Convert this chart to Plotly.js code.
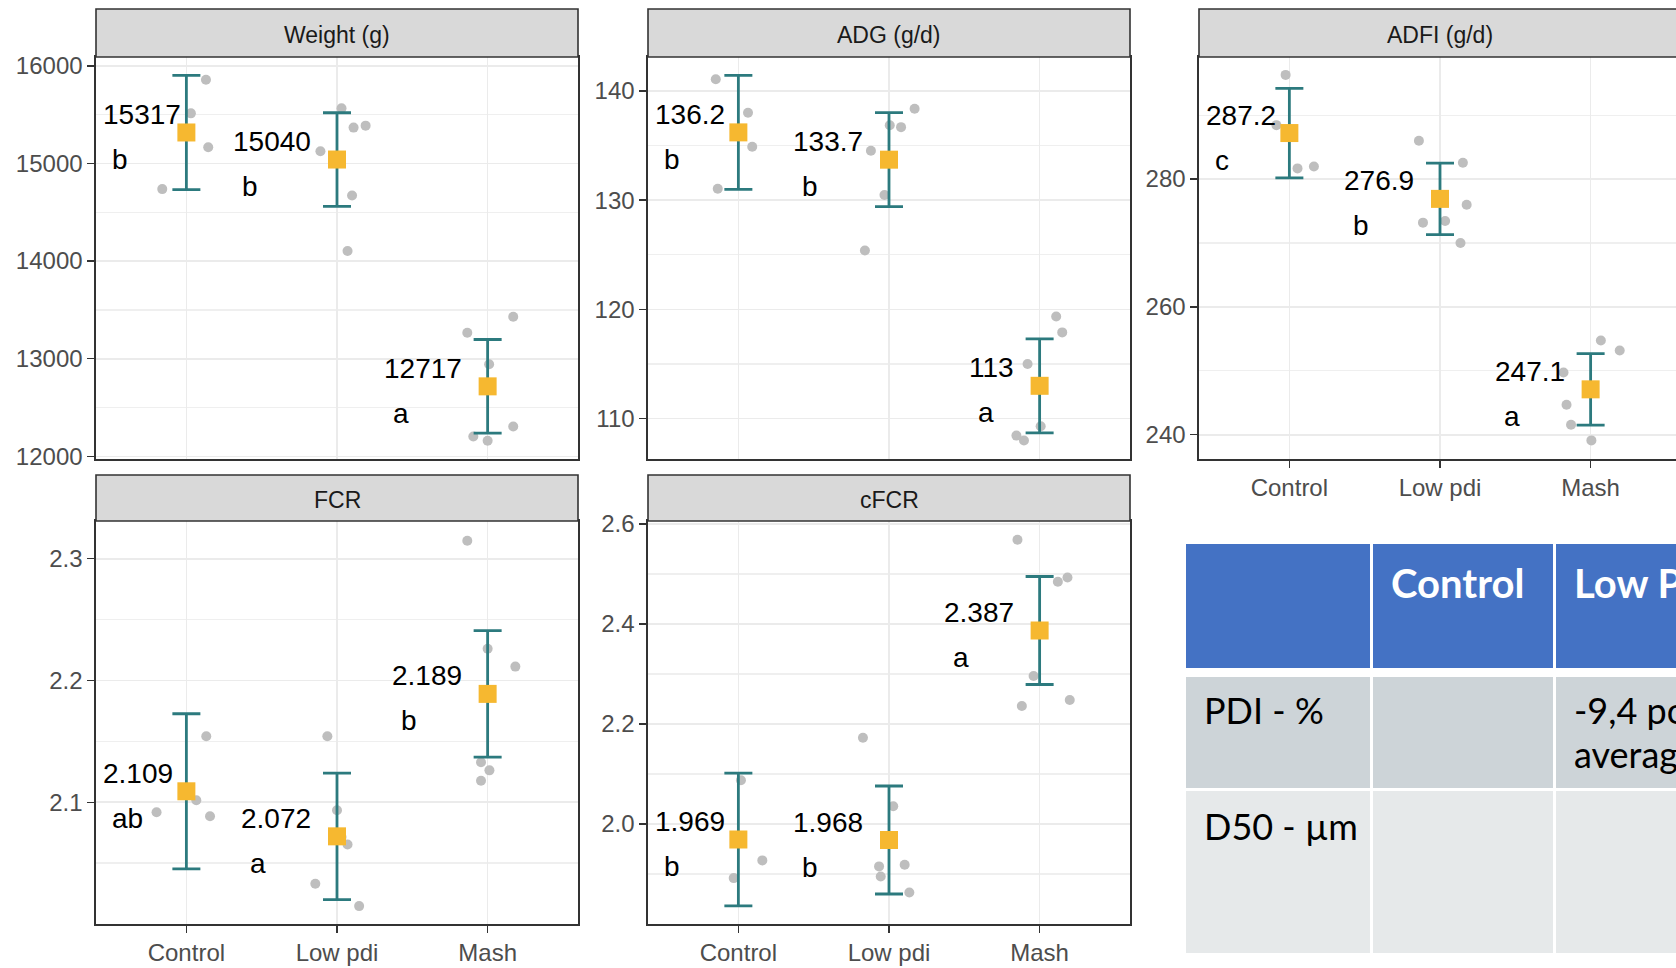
<!DOCTYPE html>
<html>
<head>
<meta charset="utf-8">
<script src="https://cdn.plot.ly/plotly-3.0.1.min.js"></script>
<style>
  html, body { margin: 0; padding: 0; overflow: hidden; background: #fff; }
  #chart { width: 1690px; height: 968px; }
</style>
</head>
<body>
<div id="chart"></div>
<script>
// ---------------- DATA ----------------
const categories = ['Control', 'Low pdi', 'Mash'];

const weightMeans = [15317, 15040, 12717];
const weightSE = [585, 479, 480];
const weightLetters = ['b', 'b', 'a'];
const weightPoints = [[15857, 15513, 15166, 14737], [15564, 15367, 15387, 15125, 14672, 14104], [13430, 13266, 12943, 12306, 12204, 12160]];
const weightJitter = [[0.13, 0.03, 0.145, -0.16], [0.03, 0.11, 0.19, -0.11, 0.10, 0.07], [0.17, -0.135, 0.01, 0.17, -0.095, 0.0]];

const adgMeans = [136.2, 133.7, 113];
const adgSE = [5.22, 4.30, 4.30];
const adgLetters = ['b', 'b', 'a'];
const adgPoints = [[141.07, 137.99, 134.88, 131.04], [138.36, 136.86, 136.68, 134.52, 130.47, 125.38], [119.35, 117.89, 115.0, 109.30, 108.44, 107.99]];
const adgJitter = [[-0.15, 0.064, 0.092, -0.137], [0.17, 0.005, 0.08, -0.12, -0.03, -0.16], [0.11, 0.15, -0.08, 0.007, -0.154, -0.104]];

const adfiMeans = [287.2, 276.9, 247.1];
const adfiSE = [7.0, 5.6, 5.6];
const adfiLetters = ['c', 'b', 'a'];
const adfiPoints = [[296.30, 288.44, 281.67, 281.98], [285.99, 282.55, 275.99, 273.18, 273.44, 270.0], [254.74, 253.18, 249.74, 244.69, 241.56, 239.11]];
const adfiJitter = [[-0.025, -0.086, 0.054, 0.163], [-0.14, 0.152, 0.177, -0.113, 0.034, 0.136], [0.068, 0.193, -0.18, -0.16, -0.13, 0.005]];

const fcrMeans = [2.109, 2.072, 2.189];
const fcrSE = [0.0637, 0.052, 0.052];
const fcrLetters = ['ab', 'a', 'b'];
const fcrPoints = [[2.1542, 2.1016, 2.0918, 2.0885], [2.1542, 2.0934, 2.0714, 2.0653, 2.033, 2.0147], [2.3148, 2.2261, 2.2114, 2.1328, 2.1262, 2.1177]];
const fcrJitter = [[0.132, 0.066, -0.198, 0.157], [-0.064, 0.0, 0.03, 0.07, -0.144, 0.147], [-0.135, 0.0, 0.184, -0.044, 0.012, -0.044]];

const cfcrMeans = [1.969, 1.968, 2.387];
const cfcrSE = [0.1326, 0.108, 0.108];
const cfcrLetters = ['b', 'b', 'a'];
const cfcrPoints = [[2.0875, 1.9695, 1.9272, 1.8918], [2.1724, 2.0354, 1.9185, 1.9152, 1.8951, 1.8631], [2.5686, 2.4931, 2.4844, 2.296, 2.2479, 2.2359]];
const cfcrJitter = [[0.017, -0.01, 0.159, -0.031], [-0.173, 0.028, 0.104, -0.066, -0.055, 0.135], [-0.147, 0.185, 0.121, -0.04, 0.2, -0.118]];

const panelTitles = ['Weight (g)', 'ADG (g/d)', 'ADFI (g/d)', 'FCR', 'cFCR'];

const weightTicks = [12000, 13000, 14000, 15000, 16000];
const adgTicks = [110, 120, 130, 140];
const adfiTicks = [240, 260, 280];
const fcrTicks = [2.1, 2.2, 2.3];
const cfcrTicks = [2.0, 2.2, 2.4, 2.6];

const tableHeader = ['', 'Control', 'Low PDI'];
const tableRowLabels = ['PDI - %', 'D50 - µm'];
const tableLowPdiCol = [['-9,4 points on', 'average'], []];

// ---------------- LAYOUT HELPERS ----------------
const W = 1690, H = 968;
const px = x => x / W;
const py = y => 1 - y / H;

const colX = [[96, 578], [648, 1130], [1199, 1681]];
const plotY = [[57, 459], [521, 924]];
const stripY = [[9, 57], [475, 521]];
const XR = [-0.6, 2.6];

const panels = [
  {title: panelTitles[0], means: weightMeans, se: weightSE, letters: weightLetters, pts: weightPoints, jit: weightJitter, range: [11973, 16090], ticks: weightTicks, minor: 500, fmt: 'd', col: 0, row: 0, xlab: false},
  {title: panelTitles[1], means: adgMeans, se: adgSE, letters: adgLetters, pts: adgPoints, jit: adgJitter, range: [106.3, 143.1], ticks: adgTicks, minor: 5, fmt: 'd', col: 1, row: 0, xlab: false},
  {title: panelTitles[2], means: adfiMeans, se: adfiSE, letters: adfiLetters, pts: adfiPoints, jit: adfiJitter, range: [236.2, 299.1], ticks: adfiTicks, minor: 10, fmt: 'd', col: 2, row: 0, xlab: true},
  {title: panelTitles[3], means: fcrMeans, se: fcrSE, letters: fcrLetters, pts: fcrPoints, jit: fcrJitter, range: [2.0, 2.331], ticks: fcrTicks, minor: 0.05, fmt: '.1f', col: 0, row: 1, xlab: true},
  {title: panelTitles[4], means: cfcrMeans, se: cfcrSE, letters: cfcrLetters, pts: cfcrPoints, jit: cfcrJitter, range: [1.80, 2.606], ticks: cfcrTicks, minor: 0.1, fmt: '.1f', col: 1, row: 1, xlab: true}
];

const ctx = document.createElement('canvas').getContext('2d');
const LABEL_FONT = 28;
ctx.font = LABEL_FONT + 'px "Liberation Sans"';

const FONT = '"Liberation Sans", Arial, sans-serif';
const traces = [];
const shapes = [];
const annotations = [];
const layout = {
  width: W, height: H,
  margin: {l: 0, r: 0, t: 0, b: 0},
  paper_bgcolor: '#ffffff', plot_bgcolor: '#ffffff',
  showlegend: false,
  font: {family: FONT, color: '#4D4D4D', size: 24}
};

panels.forEach((p, i) => {
  const n = i + 1;
  const xa = 'xaxis' + (n === 1 ? '' : n);
  const ya = 'yaxis' + (n === 1 ? '' : n);
  const xr = 'x' + (n === 1 ? '' : n);
  const yr = 'y' + (n === 1 ? '' : n);
  const [x0, x1] = colX[p.col];
  const [y0, y1] = plotY[p.row];
  layout[xa] = {
    domain: [px(x0), px(x1)], anchor: yr, range: XR,
    tickmode: 'array', tickvals: [0, 1, 2], ticktext: categories,
    showticklabels: p.xlab, ticks: p.xlab ? 'outside' : '', ticklen: 7, tickwidth: 1.5, tickcolor: '#333333',
    tickfont: {size: 24, color: '#4D4D4D', family: FONT},
    showgrid: true, gridcolor: '#EBEBEB', gridwidth: 1.6,
    zeroline: false, showline: true, mirror: true, linecolor: '#333333', linewidth: 1.6,
    fixedrange: true
  };
  layout[ya] = {
    domain: [py(y1), py(y0)], anchor: xr, range: p.range,
    tickmode: 'array', tickvals: p.ticks, ticktext: p.ticks.map(v => p.fmt === 'd' ? String(v) : v.toFixed(1)),
    ticks: 'outside', ticklen: 7, tickwidth: 1.5, tickcolor: '#333333',
    tickfont: {size: 24, color: '#4D4D4D', family: FONT},
    showgrid: true, gridcolor: '#EBEBEB', gridwidth: 1.6,
    minor: {tickmode: 'linear', tick0: p.ticks[0], dtick: p.minor, showgrid: true, gridcolor: '#EFEFEF', gridwidth: 1.3, ticks: ''},
    zeroline: false, showline: true, mirror: true, linecolor: '#333333', linewidth: 1.6,
    fixedrange: true
  };

  // strip
  shapes.push({type: 'rect', xref: 'paper', yref: 'paper',
    x0: px(x0), x1: px(x1), y0: py(stripY[p.row][1]), y1: py(stripY[p.row][0]),
    fillcolor: '#D9D9D9', line: {color: '#333333', width: 1.6}, layer: 'above'});
  annotations.push({xref: 'paper', yref: 'paper', x: px((x0 + x1) / 2), y: py((stripY[p.row][0] + stripY[p.row][1]) / 2 + 2),
    text: p.title, showarrow: false, xanchor: 'center', yanchor: 'middle',
    font: {size: 23, color: '#1A1A1A', family: FONT}});

  // individual points
  const px_ = [], py_ = [];
  p.pts.forEach((grp, gi) => grp.forEach((v, k) => { px_.push(gi + p.jit[gi][k]); py_.push(v); }));
  traces.push({type: 'scatter', mode: 'markers', x: px_, y: py_, xaxis: xr, yaxis: yr,
    marker: {color: '#BEBEBE', size: 10}, hoverinfo: 'skip', cliponaxis: false});

  // means with error bars
  traces.push({type: 'scatter', mode: 'markers', x: [0, 1, 2], y: p.means, xaxis: xr, yaxis: yr,
    error_y: {type: 'data', array: p.se, visible: true, color: '#2C7A7E', thickness: 2.8, width: 14},
    marker: {symbol: 'square', size: 18, color: '#F6B830'}, hoverinfo: 'skip'});

  // labels
  const pw = x1 - x0;
  p.means.forEach((m, gi) => {
    const label = String(m);
    const w = ctx.measureText(label).width;
    const centerFromLeft = (gi - XR[0]) / (XR[1] - XR[0]) * pw;
    let right = -25;
    const left = centerFromLeft + right - w;
    if (left < 8) right += (8 - left);
    annotations.push({xref: xr, yref: yr, x: gi, y: m, text: label, showarrow: false,
      xanchor: 'right', yanchor: 'middle', xshift: right, yshift: 18, borderpad: 0,
      font: {size: LABEL_FONT, color: '#000000', family: FONT}});
    annotations.push({xref: xr, yref: yr, x: gi, y: m, text: p.letters[gi], showarrow: false,
      xanchor: 'left', yanchor: 'middle', xshift: right - w + 7, yshift: -27, borderpad: 0,
      font: {size: LABEL_FONT, color: '#000000', family: FONT}});
  });
});

// ---------------- TABLE ----------------
const TFONT = 'Lato, "Open Sans", sans-serif';
const tCols = [[1186, 1370], [1373, 1553], [1556, 1760]];
const tRows = [[544, 668], [677, 788], [791, 953]];
const tFills = ['#4472C4', '#CDD4D8', '#E6E9EA'];
tRows.forEach((r, ri) => tCols.forEach(c => {
  shapes.push({type: 'rect', xref: 'paper', yref: 'paper', x0: px(c[0]), x1: px(c[1]), y0: py(r[1]), y1: py(r[0]),
    fillcolor: tFills[ri], line: {width: 0}, layer: 'below'});
}));
tableHeader.forEach((h, ci) => {
  if (!h) return;
  annotations.push({xref: 'paper', yref: 'paper', x: px(tCols[ci][0] + 16), y: py(583), text: '<b>' + h + '</b>',
    showarrow: false, xanchor: 'left', yanchor: 'middle', font: {size: 40, color: '#FFFFFF', family: TFONT}});
});
tableRowLabels.forEach((t, ri) => {
  const yc = ri === 0 ? 710 : 826;
  annotations.push({xref: 'paper', yref: 'paper', x: px(tCols[0][0] + 16), y: py(yc), text: t,
    showarrow: false, xanchor: 'left', yanchor: 'middle', font: {size: 36, color: '#000000', family: TFONT}});
  tableLowPdiCol[ri].forEach((line, li) => {
    annotations.push({xref: 'paper', yref: 'paper', x: px(tCols[2][0] + 16), y: py(yc + li * 44), text: line,
      showarrow: false, xanchor: 'left', yanchor: 'middle', font: {size: 36, color: '#000000', family: TFONT}});
  });
});

layout.shapes = shapes;
layout.annotations = annotations;

Plotly.newPlot('chart', traces, layout, {staticPlot: true, displayModeBar: false});
</script>
</body>
</html>
